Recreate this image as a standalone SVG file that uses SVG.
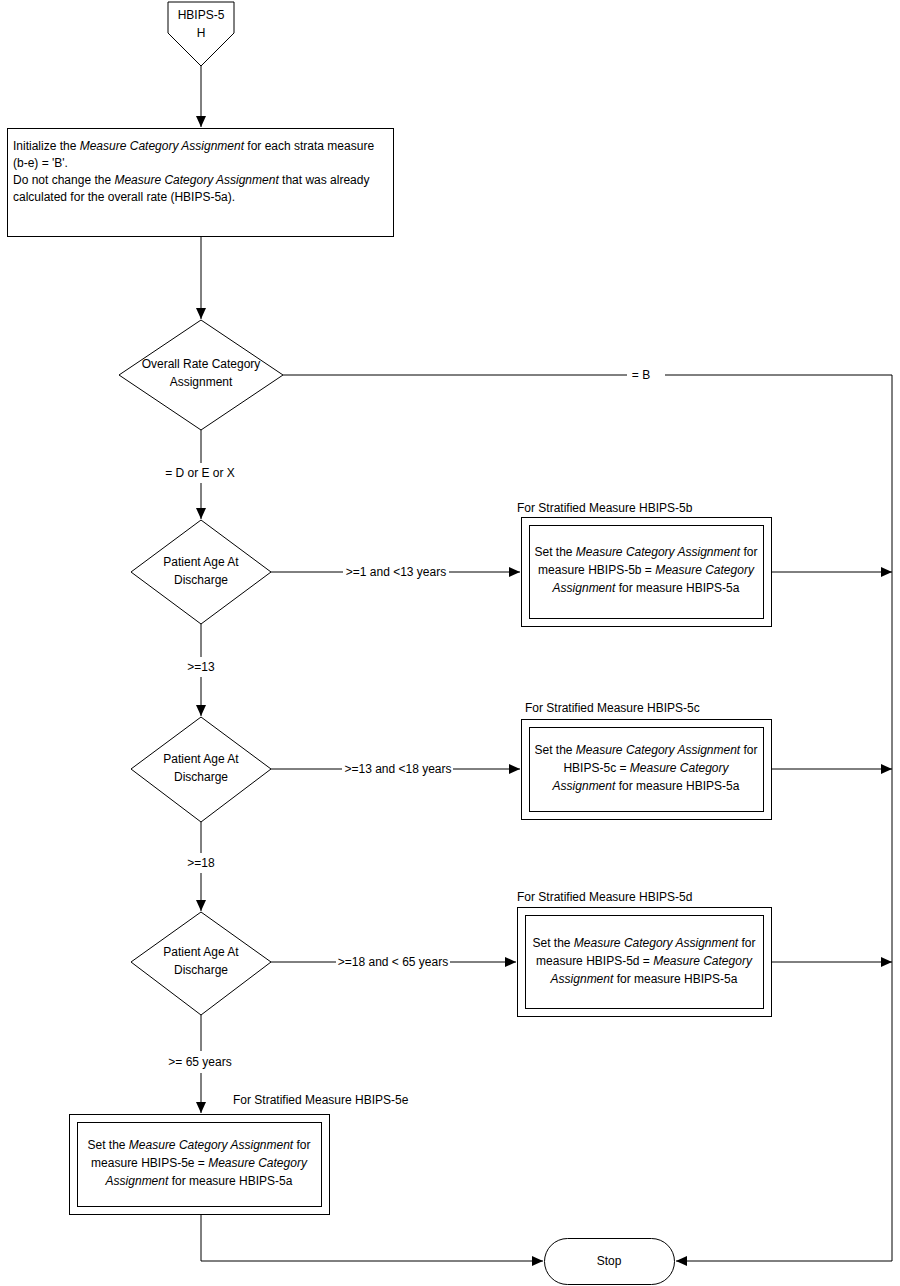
<svg xmlns="http://www.w3.org/2000/svg" width="900" height="1286" viewBox="0 0 900 1286">
<style>
text{font-family:"Liberation Sans",Arial,sans-serif;font-size:12px;fill:#000}
.c{text-anchor:middle}
.i{font-style:italic}
.shape{fill:#fff;stroke:#000;stroke-width:1}
.conn{fill:none;stroke:#000;stroke-width:1}
</style>
<defs>
<marker id="arr" markerUnits="userSpaceOnUse" markerWidth="12" markerHeight="10" refX="11" refY="5" orient="auto">
<path d="M0,0 L11,5 L0,10 Z" fill="#000"/>
</marker>
</defs>
<rect width="900" height="1286" fill="#fff"/>

<g id="connectors">
<path class="conn" d="M201,66 V127" marker-end="url(#arr)"/>
<path class="conn" d="M201,236 V319" marker-end="url(#arr)"/>
<path class="conn" d="M283,375 H627 M665,375 H892 V1261 H676" marker-end="url(#arr)"/>
<path class="conn" d="M201,430 V463 M201,483 V519" marker-end="url(#arr)"/>
<path class="conn" d="M271,572 H343 M449,572 H520" marker-end="url(#arr)"/>
<path class="conn" d="M772,572 H892" marker-end="url(#arr)"/>
<path class="conn" d="M201,624 V657 M201,677 V716" marker-end="url(#arr)"/>
<path class="conn" d="M271,769 H342 M453,769 H520" marker-end="url(#arr)"/>
<path class="conn" d="M772,769 H892" marker-end="url(#arr)"/>
<path class="conn" d="M201,822 V853 M201,873 V911" marker-end="url(#arr)"/>
<path class="conn" d="M271,962 H336 M450,962 H516" marker-end="url(#arr)"/>
<path class="conn" d="M772,962 H892" marker-end="url(#arr)"/>
<path class="conn" d="M201,1015 V1051 M201,1073 V1113" marker-end="url(#arr)"/>
<path class="conn" d="M201,1214 V1261 H543" marker-end="url(#arr)"/>
<text x="641" y="379" class="c">= B</text>
<text x="200" y="477" class="c">= D or  E or  X</text>
<text x="396" y="576" class="c">&gt;=1 and &lt;13 years</text>
<text x="201" y="671" class="c">&gt;=13</text>
<text x="398" y="773" class="c">&gt;=13 and &lt;18 years</text>
<text x="201" y="867" class="c">&gt;=18</text>
<text x="393" y="966" class="c">&gt;=18 and &lt; 65 years</text>
<text x="200" y="1066" class="c">&gt;= 65 years</text>
</g>

<g id="start">
<path class="shape" d="M168,2 H234 V33 L201,66 L168,33 Z"/>
<text x="201" y="19" class="c">HBIPS-5</text>
<text x="201" y="37" class="c">H</text>
</g>

<g id="init">
<rect class="shape" x="7.5" y="128.5" width="386" height="108"/>
<text x="13" y="150"> Initialize the <tspan class="i">Measure Category Assignment</tspan> for each strata measure</text>
<text x="13" y="167">(b-e) = 'B'.</text>
<text x="13" y="184">Do not change the <tspan class="i">Measure Category Assignment</tspan> that was already</text>
<text x="13" y="201">calculated for the overall rate (HBIPS-5a).</text>
</g>

<g id="overall">
<path class="shape" d="M201,320 L283,375 L201,430 L119,375 Z"/>
<text x="201" y="368" class="c">Overall Rate Category</text>
<text x="201" y="386" class="c">Assignment</text>
</g>

<g id="age1">
<path class="shape" d="M201,520 L271,572 L201,624 L131,572 Z"/>
<text x="201" y="566" class="c">Patient Age At</text>
<text x="201" y="584" class="c">Discharge</text>
</g>

<g id="age2">
<path class="shape" d="M201,717 L271,769 L201,822 L131,769 Z"/>
<text x="201" y="763" class="c">Patient Age At</text>
<text x="201" y="781" class="c">Discharge</text>
</g>

<g id="age3">
<path class="shape" d="M201,912 L271,962 L201,1015 L131,962 Z"/>
<text x="201" y="956" class="c">Patient Age At</text>
<text x="201" y="974" class="c">Discharge</text>
</g>

<g id="strat5b">
<text x="517" y="512">For Stratified Measure HBIPS-5b</text>
<rect class="shape" x="521.5" y="517.5" width="250" height="109"/>
<rect class="shape" x="529.5" y="525.5" width="234" height="93"/>
<text x="646" y="556" class="c">Set the <tspan class="i">Measure Category Assignment</tspan> for</text>
<text x="646" y="574" class="c">measure HBIPS-5b = <tspan class="i">Measure Category</tspan></text>
<text x="646" y="592" class="c"><tspan class="i">Assignment</tspan> for measure  HBIPS-5a</text>
</g>

<g id="strat5c">
<text x="525" y="712">For Stratified Measure HBIPS-5c</text>
<rect class="shape" x="521.5" y="719.5" width="250" height="100"/>
<rect class="shape" x="529.5" y="727.5" width="234" height="84"/>
<text x="646" y="754" class="c">Set the <tspan class="i">Measure Category Assignment</tspan> for</text>
<text x="646" y="772" class="c">HBIPS-5c =  <tspan class="i">Measure Category</tspan></text>
<text x="646" y="790" class="c"><tspan class="i">Assignment</tspan> for measure HBIPS-5a</text>
</g>

<g id="strat5d">
<text x="517" y="901">For Stratified Measure HBIPS-5d</text>
<rect class="shape" x="517.5" y="907.5" width="254" height="109"/>
<rect class="shape" x="525.5" y="915.5" width="238" height="93"/>
<text x="644" y="947" class="c">Set the <tspan class="i">Measure Category Assignment</tspan> for</text>
<text x="644" y="965" class="c">measure HBIPS-5d = <tspan class="i">Measure Category</tspan></text>
<text x="644" y="983" class="c"><tspan class="i">Assignment</tspan> for measure HBIPS-5a</text>
</g>

<g id="strat5e">
<text x="233" y="1104">For Stratified Measure HBIPS-5e</text>
<rect class="shape" x="69.5" y="1114.5" width="260" height="100"/>
<rect class="shape" x="77.5" y="1122.5" width="244" height="84"/>
<text x="199" y="1149" class="c">Set the <tspan class="i">Measure Category Assignment</tspan> for</text>
<text x="199" y="1167" class="c">measure HBIPS-5e = <tspan class="i">Measure Category</tspan></text>
<text x="199" y="1185" class="c"><tspan class="i">Assignment</tspan> for measure HBIPS-5a</text>
</g>

<g id="stop">
<rect class="shape" x="544.5" y="1238.5" width="130" height="46" rx="23" ry="23"/>
<text x="609" y="1265" class="c">Stop</text>
</g>
</svg>
